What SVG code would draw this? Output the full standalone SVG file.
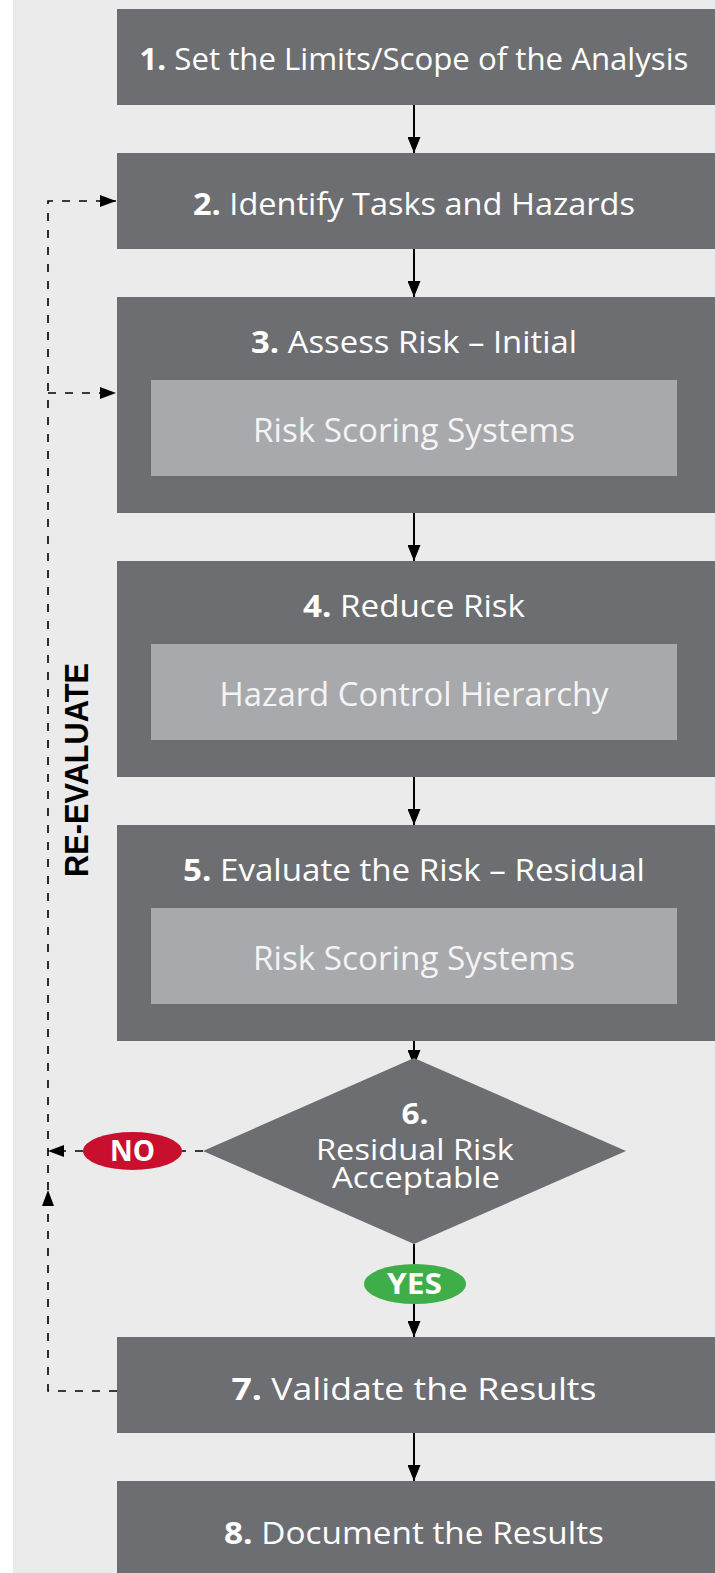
<svg xmlns="http://www.w3.org/2000/svg" width="715" height="1573" viewBox="0 0 715 1573">
<style>
.box{fill:#6d6e71}
.inner{fill:#a7a9ac}
.t{font-family:"Open Sans","Liberation Sans",sans-serif;font-size:31px;fill:#fff;text-anchor:middle}
.td{font-family:"Open Sans","Liberation Sans",sans-serif;font-size:29px;fill:#fff;text-anchor:middle}
.ti{font-family:"Open Sans","Liberation Sans",sans-serif;font-size:33px;fill:#f4f4f4;text-anchor:middle}
.b{font-weight:bold}
.lbl{font-family:"Open Sans","Liberation Sans",sans-serif;font-size:28px;font-weight:bold;fill:#fff;text-anchor:middle}
.solid{stroke:#000;stroke-width:2;fill:none}
.dash{stroke:#000;stroke-width:1.6;fill:none;stroke-dasharray:8 9}
</style>
<defs>
<marker id="ah" markerUnits="userSpaceOnUse" markerWidth="16" markerHeight="13" refX="16" refY="6.5" orient="auto">
<path d="M0,0 L16,6.5 L0,13 z" fill="#000"/>
</marker>
<marker id="ahs" markerUnits="userSpaceOnUse" markerWidth="16" markerHeight="12" refX="16" refY="6" orient="auto">
<path d="M0,0 L16,6 L0,12 z" fill="#000"/>
</marker>
</defs>
<rect x="0" y="0" width="715" height="1573" fill="#fff"/>
<rect x="13" y="0" width="702" height="1573" fill="#ebebeb"/>

<g id="connectors">
<path class="solid" d="M414,105 V153" marker-end="url(#ah)"/>
<path class="solid" d="M414,249 V297" marker-end="url(#ah)"/>
<path class="solid" d="M414,513 V561" marker-end="url(#ah)"/>
<path class="solid" d="M414,777 V825" marker-end="url(#ah)"/>
<path class="solid" d="M414,1041 V1066" marker-end="url(#ah)"/>
<path class="solid" d="M414,1244 V1265"/>
<path class="solid" d="M414,1303 V1337" marker-end="url(#ah)"/>
<path class="solid" d="M414,1433 V1481" marker-end="url(#ah)"/>
<path class="dash" d="M117,1391 H48 V1190" marker-end="url(#ahs)"/>
<path class="dash" d="M48,1190 V201 H116" marker-end="url(#ahs)"/>
<path class="dash" d="M48,393 H116" marker-end="url(#ahs)"/>
<path class="dash" d="M203,1151 H182"/>
<path class="dash" d="M83,1151 H48" marker-end="url(#ahs)"/>
</g>

<g id="node1">
<rect class="box" x="117" y="9" width="598" height="96"/>
<text class="t" x="414" y="70" textLength="549" lengthAdjust="spacingAndGlyphs"><tspan class="b">1.</tspan> Set the Limits/Scope of the Analysis</text>
</g>
<g id="node2">
<rect class="box" x="117" y="153" width="598" height="96"/>
<text class="t" x="414" y="215" textLength="442" lengthAdjust="spacingAndGlyphs"><tspan class="b">2.</tspan> Identify Tasks and Hazards</text>
</g>
<g id="node3">
<rect class="box" x="117" y="297" width="598" height="216"/>
<text class="t" x="414" y="353" textLength="326" lengthAdjust="spacingAndGlyphs"><tspan class="b">3.</tspan> Assess Risk – Initial</text>
<rect class="inner" x="151" y="380" width="526" height="96"/>
<text class="ti" x="414" y="442" textLength="322" lengthAdjust="spacingAndGlyphs">Risk Scoring Systems</text>
</g>
<g id="node4">
<rect class="box" x="117" y="561" width="598" height="216"/>
<text class="t" x="414" y="617" textLength="222" lengthAdjust="spacingAndGlyphs"><tspan class="b">4.</tspan> Reduce Risk</text>
<rect class="inner" x="151" y="644" width="526" height="96"/>
<text class="ti" x="414" y="706" textLength="389" lengthAdjust="spacingAndGlyphs">Hazard Control Hierarchy</text>
</g>
<g id="node5">
<rect class="box" x="117" y="825" width="598" height="216"/>
<text class="t" x="414" y="881" textLength="462" lengthAdjust="spacingAndGlyphs"><tspan class="b">5.</tspan> Evaluate the Risk – Residual</text>
<rect class="inner" x="151" y="908" width="526" height="96"/>
<text class="ti" x="414" y="970" textLength="322" lengthAdjust="spacingAndGlyphs">Risk Scoring Systems</text>
</g>
<g id="node6">
<polygon class="box" points="414,1058 626,1151 414,1244 203,1151"/>
<text class="td b" x="415" y="1124" textLength="27" lengthAdjust="spacingAndGlyphs">6.</text>
<text class="td" x="415" y="1160" textLength="198" lengthAdjust="spacingAndGlyphs">Residual Risk</text>
<text class="td" x="416" y="1188" textLength="168" lengthAdjust="spacingAndGlyphs">Acceptable</text>
</g>
<g id="label-no">
<ellipse cx="132.5" cy="1151" rx="49.5" ry="19" fill="#c8102e"/>
<text class="lbl" x="132.5" y="1161" textLength="45" lengthAdjust="spacingAndGlyphs">NO</text>
</g>
<g id="label-yes">
<ellipse cx="415" cy="1284" rx="51" ry="20" fill="#3fae49"/>
<text class="lbl" x="414.5" y="1294" textLength="55" lengthAdjust="spacingAndGlyphs">YES</text>
</g>
<g id="node7">
<rect class="box" x="117" y="1337" width="598" height="96"/>
<text class="t" x="414" y="1400" textLength="365" lengthAdjust="spacingAndGlyphs"><tspan class="b">7.</tspan> Validate the Results</text>
</g>
<g id="node8">
<rect class="box" x="117" y="1481" width="598" height="96"/>
<text class="t" x="414" y="1544" textLength="380" lengthAdjust="spacingAndGlyphs"><tspan class="b">8.</tspan> Document the Results</text>
</g>
<g id="reevaluate">
<text transform="translate(88,770) rotate(-90)" x="0" y="0" font-family="Liberation Sans, Arial, sans-serif" font-size="34" font-weight="bold" fill="#000" text-anchor="middle" textLength="214" lengthAdjust="spacingAndGlyphs">RE-EVALUATE</text>
</g>
</svg>
